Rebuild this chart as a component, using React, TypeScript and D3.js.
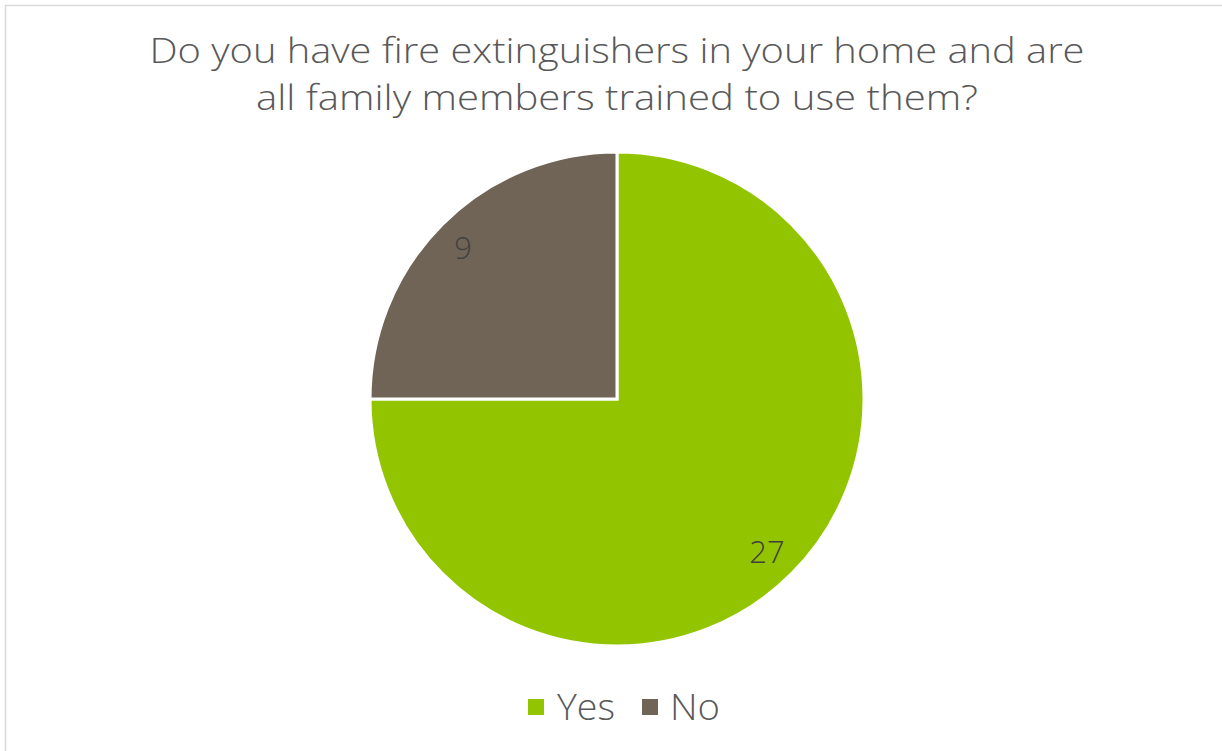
import React from "react";
import * as d3 from "d3";

const titleLines = [
  "Do you have fire extinguishers in your home and are",
  "all family members trained to use them?",
];
const categories = ["Yes", "No"];
const values = [27, 9];
const colors = ["#92C500", "#6F6455"];

const W = 1222;
const H = 751;
const FONT = "'Open Sans', 'DejaVu Sans', sans-serif";

export default function App() {
  const cx = 617;
  const cy = 399;
  const r = 247;
  const data = categories.map((c, i) => ({ cat: c, value: values[i], color: colors[i] }));
  const pie = d3.pie<any>().value((d) => d.value).sort(null);
  const arcs = pie(data);
  const arc = d3.arc<any>().innerRadius(0).outerRadius(r);
  const labelArc = d3.arc<any>().innerRadius(r * 0.87).outerRadius(r * 0.87);

  const titleWidths = [935, 722];
  const titleBaselines = [63, 110];

  const legendItems = [
    { sq: 528, tx: 557, tw: 58 },
    { sq: 642, tx: 670, tw: 50 },
  ];

  return (
    <svg
      width={W}
      height={H}
      style={{ position: "absolute", left: 0, top: 0, display: "block" }}
    >
      <rect x={0} y={0} width={W} height={H} fill="#ffffff" />
      <rect x={5.5} y={5.5} width={W + 10} height={H + 10} fill="none" stroke="#d9d9d9" strokeWidth={1.5} />
      {titleLines.map((t, i) => (
        <text
          key={i}
          x={617}
          y={titleBaselines[i]}
          textAnchor="middle"
          fontFamily={FONT}
          fontSize={34}
          fontWeight={300}
          fill="#595959"
          textLength={titleWidths[i]}
          lengthAdjust="spacingAndGlyphs"
        >
          {t}
        </text>
      ))}
      <g transform={`translate(${cx},${cy})`}>
        {arcs.map((a, i) => (
          <path key={i} d={arc(a) || ""} fill={a.data.color} stroke="#ffffff" strokeWidth={3} strokeLinejoin="miter" />
        ))}
        {arcs.map((a, i) => {
          const [lx, ly] = labelArc.centroid(a);
          return (
            <text
              key={i}
              x={lx - 2}
              y={ly}
              textAnchor="middle"
              dominantBaseline="central"
              fontFamily={FONT}
              fontSize={31}
              fontWeight={300}
              fill="#404040"
            >
              {a.data.value}
            </text>
          );
        })}
      </g>
      {data.map((d, i) => (
        <g key={i}>
          <rect x={legendItems[i].sq} y={699} width={16} height={16} fill={d.color} />
          <text
            x={legendItems[i].tx}
            y={720}
            fontFamily={FONT}
            fontSize={36}
            fontWeight={300}
            fill="#595959"
            textLength={legendItems[i].tw}
            lengthAdjust="spacingAndGlyphs"
          >
            {d.cat}
          </text>
        </g>
      ))}
    </svg>
  );
}
